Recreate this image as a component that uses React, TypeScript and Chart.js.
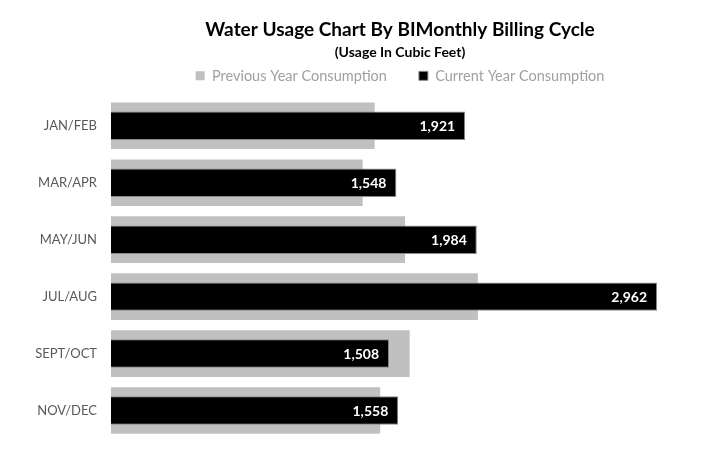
import React, { useEffect, useRef } from "react";
import { Chart, registerables } from "chart.js";

Chart.register(...registerables);

const categories = ["JAN/FEB", "MAR/APR", "MAY/JUN", "JUL/AUG", "SEPT/OCT", "NOV/DEC"];
const previousYear = [1430, 1365, 1595, 1990, 1620, 1460];
const currentYear = [1921, 1548, 1984, 2962, 1508, 1558];
const seriesNames = ["Previous Year Consumption", "Current Year Consumption"];
const titleText = "Water Usage Chart By BIMonthly Billing Cycle";
const subtitleText = "(Usage In Cubic Feet)";

const FONT = "Lato, 'Noto Sans', sans-serif";

const valueLabels = {
  id: "valueLabels",
  afterDatasetsDraw(chart: any) {
    const ctx = chart.ctx;
    const meta = chart.getDatasetMeta(1);
    ctx.save();
    ctx.font = `bold 14px ${FONT}`;
    ctx.fillStyle = "#ffffff";
    ctx.textAlign = "right";
    ctx.textBaseline = "middle";
    meta.data.forEach((el: any, i: number) => {
      const v = currentYear[i];
      ctx.fillText(v.toLocaleString("en-US"), el.x - 10, el.y + 1);
    });
    ctx.restore();
  },
};

export default function App() {
  const ref = useRef<HTMLCanvasElement | null>(null);
  useEffect(() => {
    document.body.style.margin = "0";
    const chart = new Chart(ref.current!, {
      type: "bar",
      data: {
        labels: categories,
        datasets: [
          {
            label: seriesNames[0],
            data: previousYear,
            backgroundColor: "#c0c0c0",
            grouped: false,
            barPercentage: 0.82,
            categoryPercentage: 1,
            order: 2,
          } as any,
          {
            label: seriesNames[1],
            data: currentYear,
            backgroundColor: "#000000",
            borderColor: "#8a8a8a",
            borderWidth: 1,
            grouped: false,
            barPercentage: 0.5,
            categoryPercentage: 1,
            order: 1,
          } as any,
        ],
      },
      options: {
        indexAxis: "y",
        responsive: false,
        animation: false,
        layout: { padding: { left: 0, right: 22, top: 0, bottom: 13 } },
        plugins: {
          title: {
            display: true,
            fullSize: false,
            text: titleText,
            color: "#000000",
            font: { family: FONT, size: 19, weight: "bold", lineHeight: 1.2 },
            padding: { top: 18, bottom: 0 },
          },
          subtitle: {
            display: true,
            fullSize: false,
            text: subtitleText,
            color: "#000000",
            font: { family: FONT, size: 14, weight: "bold", lineHeight: 1.2 },
            padding: { top: 3, bottom: -24 },
          },
          legend: {
            display: true,
            fullSize: false,
            labels: {
              boxWidth: 9,
              boxHeight: 9,
              color: "#a0a0a0",
              font: { family: FONT, size: 14.5 },
              padding: 32,
              sort: (a: any, b: any) => a.datasetIndex - b.datasetIndex,
            },
          },
          tooltip: { enabled: false },
        },
        scales: {
          x: {
            display: false,
            min: 0,
            max: 3135,
          },
          y: {
            grid: { display: false, drawTicks: false },
            border: { display: false },
            ticks: {
              color: "#595959",
              font: { family: FONT, size: 13 },
              padding: 14,
            },
            afterFit: (scale: any) => {
              scale.width = 111;
              scale.paddingTop = 0;
              scale.paddingBottom = 0;
            },
          },
        },
      },
      plugins: [valueLabels],
    });
    return () => chart.destroy();
  }, []);
  return (
    <div style={{ width: 711, height: 452 }}>
      <canvas ref={ref} width={711} height={452} style={{ display: "block" }} />
    </div>
  );
}
